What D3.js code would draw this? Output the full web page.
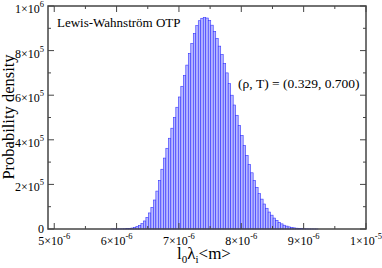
<!DOCTYPE html>
<html>
<head>
<meta charset="utf-8">
<script src="https://cdn.jsdelivr.net/npm/d3@7"></script>
<style>
  body { margin: 0; background: #fff; }
</style>
</head>
<body>
<svg></svg>
<script>
// histogram bins: left edges (in 1e-6 m) and density
var binWidth = 0.04;
var binStart = 5.91;
var density = [
  0.0001, 0.0002, 0.0003, 0.0005, 0.0008, 0.0012, 0.0018, 0.0028, 0.0043, 0.0068,
  0.0105, 0.016, 0.024, 0.036, 0.052, 0.072, 0.097, 0.13, 0.17, 0.218,
  0.268, 0.318, 0.362, 0.407, 0.452, 0.50, 0.546, 0.592, 0.640, 0.688,
  0.735, 0.787, 0.832, 0.877, 0.912, 0.934, 0.945, 0.948, 0.946, 0.935,
  0.914, 0.886, 0.855, 0.820, 0.783, 0.742, 0.700, 0.652, 0.60, 0.556,
  0.51, 0.465, 0.42, 0.375, 0.33, 0.29, 0.252, 0.218, 0.187, 0.159,
  0.134, 0.112, 0.093, 0.076, 0.062, 0.049, 0.039, 0.030, 0.023, 0.017,
  0.013, 0.0095, 0.007, 0.005, 0.0036, 0.0026, 0.0018, 0.0012, 0.0008, 0.0005,
  0.0003, 0.0002, 0.0001
]; // x 1e6

var xTicks = [5e-6, 6e-6, 7e-6, 8e-6, 9e-6, 1e-5];
var yTicks = [0, 2e5, 4e5, 6e5, 8e5, 1e6];
var xTickLabels = [["5×10", "-6"], ["6×10", "-6"], ["7×10", "-6"], ["8×10", "-6"], ["9×10", "-6"], ["1×10", "-5"]];
var yTickLabels = [["0", ""], ["2×10", "5"], ["4×10", "5"], ["6×10", "5"], ["8×10", "5"], ["1×10", "6"]];

var width = 382, height = 268;
var margin = {left: 48, right: 16, top: 6, bottom: 39};
var serif = "Liberation Serif";

var svg = d3.select("svg").attr("width", width).attr("height", height);

var x = d3.scaleLinear().domain([4.9e-6, 1e-5]).range([margin.left, width - margin.right]);
var y = d3.scaleLinear().domain([0, 1e6]).range([height - margin.bottom, margin.top]);

var bins = density.map(function(d, i) {
  return {x0: (binStart + i * binWidth) * 1e-6, x1: (binStart + (i + 1) * binWidth) * 1e-6, v: d * 1e6};
});

svg.append("g").selectAll("rect")
  .data(bins)
  .enter()
  .append("rect")
    .attr("x", function(d) { return x(d.x0); })
    .attr("width", function(d) { return x(d.x1) - x(d.x0); })
    .attr("y", function(d) { return y(d.v); })
    .attr("height", function(d) { return y(0) - y(d.v); })
    .attr("fill", "#b8b8ff")
    .attr("stroke", "#3434ff")
    .attr("stroke-width", 0.6);

// ticks, inward on all four sides
var frame = svg.append("g").attr("stroke", "#444").attr("stroke-width", 1);
var xMinor = d3.range(5e-6, 1.0001e-5, 0.5e-6);
var yMinor = d3.range(0, 1.0001e6, 1e5);
xMinor.forEach(function(t, i) {
  var len = i % 2 === 0 ? 6 : 3;
  frame.append("line").attr("x1", x(t)).attr("x2", x(t)).attr("y1", y(0)).attr("y2", y(0) - len);
  frame.append("line").attr("x1", x(t)).attr("x2", x(t)).attr("y1", y(1e6)).attr("y2", y(1e6) + len);
});
yMinor.forEach(function(t, i) {
  var len = i % 2 === 0 ? 6 : 3;
  frame.append("line").attr("x1", x.range()[0]).attr("x2", x.range()[0] + len).attr("y1", y(t)).attr("y2", y(t));
  frame.append("line").attr("x1", x.range()[1]).attr("x2", x.range()[1] - len).attr("y1", y(t)).attr("y2", y(t));
});
svg.append("rect")
  .attr("x", x.range()[0]).attr("y", y(1e6))
  .attr("width", x.range()[1] - x.range()[0]).attr("height", y(0) - y(1e6))
  .attr("fill", "none").attr("stroke", "#444").attr("stroke-width", 1.5);

// tick labels
xTicks.forEach(function(t, i) {
  var lab = svg.append("text").attr("x", x(t)).attr("y", y(0) + 16)
    .attr("font-family", serif).attr("font-size", 12)
    .attr("text-anchor", "middle");
  lab.append("tspan").text(xTickLabels[i][0]);
  lab.append("tspan").attr("dy", -6).attr("font-size", 8.5).text(xTickLabels[i][1]);
});
yTicks.forEach(function(t, i) {
  var lab = svg.append("text").attr("x", 44).attr("y", y(t) + (i === 0 ? 4 : 7))
    .attr("font-family", serif).attr("font-size", 12)
    .attr("text-anchor", "end");
  lab.append("tspan").text(yTickLabels[i][0]);
  if (yTickLabels[i][1]) lab.append("tspan").attr("dy", -6).attr("font-size", 8.5).text(yTickLabels[i][1]);
});

// axis titles
svg.append("text")
  .attr("transform", "translate(14,117) rotate(-90)")
  .attr("font-family", serif).attr("font-size", 16.5)
  .attr("text-anchor", "middle")
  .text("Probability density");

var xt = svg.append("text").attr("x", 204).attr("y", 259)
  .attr("font-family", serif).attr("font-size", 17)
  .attr("text-anchor", "middle");
xt.append("tspan").text("l");
xt.append("tspan").attr("dy", 4).attr("font-size", 11).text("0");
xt.append("tspan").attr("dy", -4).text("λ");
xt.append("tspan").attr("dy", 4).attr("font-size", 11).text("i");
xt.append("tspan").attr("dy", -4).text("<m>");

// annotations
svg.append("text").attr("x", 57).attr("y", 27)
  .attr("font-family", serif).attr("font-size", 13)
  .text("Lewis-Wahnström OTP");
svg.append("text").attr("x", 238).attr("y", 88)
  .attr("font-family", serif).attr("font-size", 13.5)
  .text("(ρ, T) = (0.329, 0.700)");
</script>
</body>
</html>
